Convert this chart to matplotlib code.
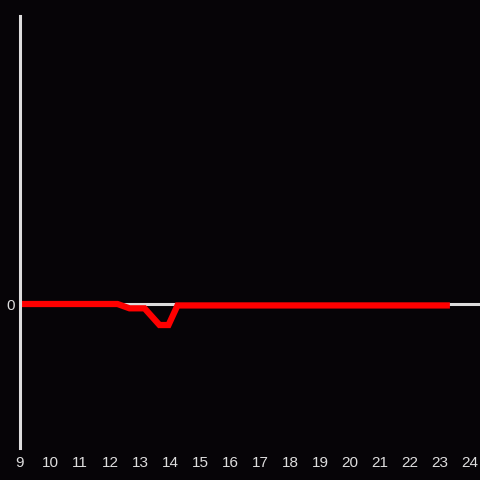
import matplotlib
matplotlib.use('Agg')
import matplotlib.pyplot as plt
import numpy as np

# hour of day and value of the series
hours = [9.0, 12.25, 12.65, 13.15, 13.65, 13.95, 14.25, 23.33]
values = [0.0, 0.0, -0.03, -0.03, -0.146, -0.146, -0.01, -0.01]
tick_hours = list(range(9, 25))

bg = '#060407'
fg = '#dddddd'

fig = plt.figure(figsize=(4.8, 4.8), dpi=100, facecolor=bg)
# axes box: left 20px, top 16px, bottom 448px, right edge of figure
ax = fig.add_axes([20 / 480, 32 / 480, 460 / 480, 432 / 480], facecolor=bg)

# zero line
ax.axhline(0, color=fg, linewidth=2.2, zorder=1)

# the red series
ax.plot(hours, values, color='#ff0000', linewidth=4.5,
        solid_capstyle='butt', solid_joinstyle='miter', zorder=2)

ax.set_xlim(9, 24.333)
ax.set_ylim(-1, 2)

ax.set_xticks(tick_hours)
ax.set_xticklabels([str(h) for h in tick_hours])
ax.set_yticks([0])
ax.set_yticklabels(['0'])
ax.tick_params(axis='both', length=0, colors=fg, labelsize=11)
ax.tick_params(axis='x', pad=5.5)
ax.tick_params(axis='y', pad=4)
for lab in ax.get_xticklabels() + ax.get_yticklabels():
    lab.set_fontfamily('Liberation Sans')

for side in ['top', 'right', 'bottom']:
    ax.spines[side].set_visible(False)
ax.spines['left'].set_color(fg)
ax.spines['left'].set_linewidth(2.2)

fig.savefig('out.png', dpi=100, facecolor=bg)
